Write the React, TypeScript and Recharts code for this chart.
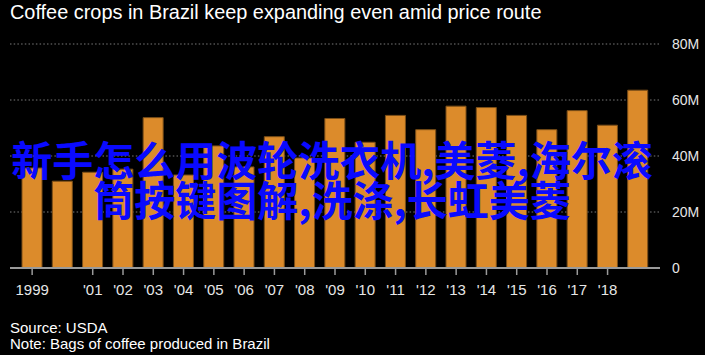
import React from 'react';
import { BarChart, Bar, XAxis, YAxis, CartesianGrid } from 'recharts';

const years = ['1999','2000','2001','2002','2003','2004','2005','2006','2007','2008','2009','2010','2011','2012','2013','2014','2015','2016','2017','2018','2019'];
const bagsMillions = [35.7, 31.0, 34.2, 35.3, 53.7, 33.2, 43.6, 36.1, 46.9, 39.3, 53.4, 44.9, 54.5, 49.4, 57.8, 57.3, 54.5, 49.4, 56.2, 51.0, 63.5];
const xLabels = ['1999', '', "'01", "'02", "'03", "'04", "'05", "'06", "'07", "'08", "'09", "'10", "'11", "'12", "'13", "'14", "'15", "'16", "'17", "'18", ''];
const yTicks = [0, 20, 40, 60, 80];

const title = 'Coffee crops in Brazil keep expanding even amid price route';
const sourceText = 'Source: USDA';
const noteText = 'Note: Bags of coffee produced in Brazil';
const overlayLines = ['新手怎么用波轮洗衣机,美菱,海尔滚', '筒按键图解,洗涤,长虹美菱'];

const data = years.map((y, i) => ({ year: y, value: bagsMillions[i], label: xLabels[i] }));

const FONT = '"Liberation Sans", Arial, Helvetica, sans-serif';

const XTick = (props: any) => {
  const { x, y, index } = props;
  const label = xLabels[index];
  if (!label) return null;
  return (
    <g>
      <line x1={x} y1={y} x2={x} y2={y + 7} stroke="#9a9a9a" strokeWidth={1.5} />
      <text x={x} y={295} textAnchor="middle" fill="#e6e6e6" fontSize={15} fontFamily={FONT}>
        {label}
      </text>
    </g>
  );
};

export default function App() {
  return (
    <div style={{ position: 'absolute', left: 0, top: 0, width: 705, height: 355, background: '#000', overflow: 'hidden' }}>
      <BarChart
        width={705}
        height={355}
        data={data}
        margin={{ top: 44, right: 0, left: 10, bottom: 57 }}
        barSize={20}
      >
        <CartesianGrid vertical={false} stroke="#7a7a7a" strokeDasharray="1.5 2.2" />
        <XAxis
          dataKey="year"
          interval={0}
          height={30}
          padding={{ left: 7, right: 7 }}
          axisLine={{ stroke: '#9a9a9a', strokeWidth: 2 }}
          tickLine={false}
          tickSize={0}
          tickMargin={0}
          tick={<XTick />}
        />
        <YAxis
          orientation="right"
          width={45}
          domain={[0, 80]}
          ticks={yTicks}
          axisLine={false}
          tickLine={false}
          tickSize={0}
          tickMargin={12}
          tick={{ fill: '#e6e6e6', fontSize: 14, fontFamily: FONT }}
          tickFormatter={(v: number) => (v === 0 ? '0' : `${v}M`)}
        />
        <Bar dataKey="value" fill="#dc8b2b" stroke="#7c4f18" strokeWidth={1} isAnimationActive={false} />
      </BarChart>
      <svg width={705} height={355} style={{ position: 'absolute', left: 0, top: 0, pointerEvents: 'none' }}>
        <text x={10} y={19} fill="#ffffff" fontSize={19.9} fontFamily={FONT}>{title}</text>
        <text x={10} y={333} fill="#ffffff" fontSize={15} fontFamily={FONT}>{sourceText}</text>
        <text x={10} y={349} fill="#ffffff" fontSize={15} fontFamily={FONT}>{noteText}</text>
        {overlayLines.map((line, i) => (
          <text
            key={i}
            x={332}
            y={176 + i * 40}
            textAnchor="middle"
            fill="#0a0aff"
            fontSize={41}
            fontWeight="bold"
            fontFamily='"Noto Sans CJK SC", sans-serif'
          >
            {line}
          </text>
        ))}
      </svg>
    </div>
  );
}
